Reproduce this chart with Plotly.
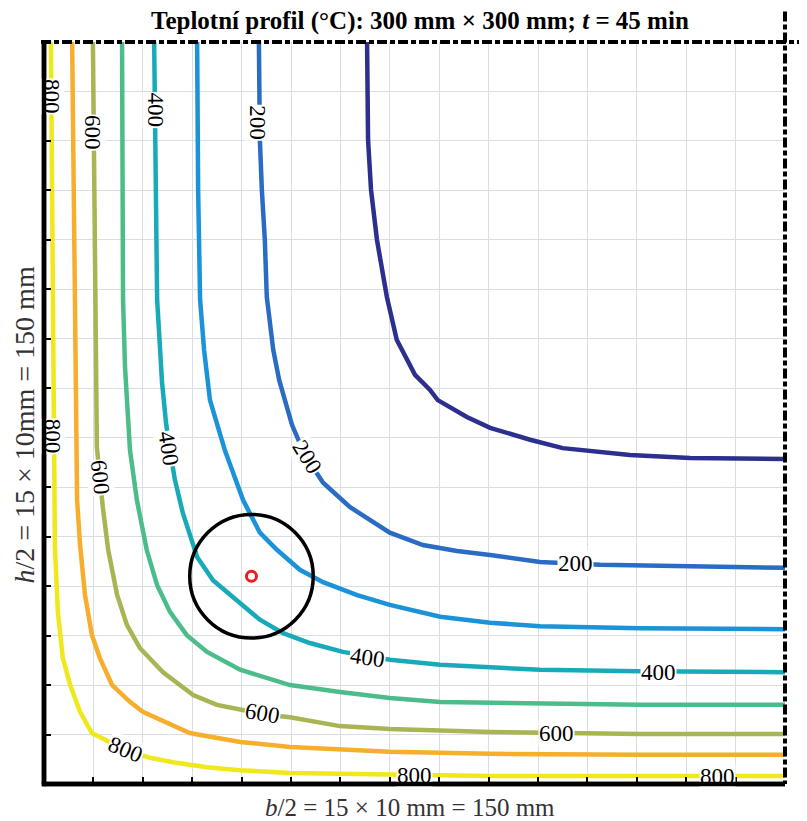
import plotly.graph_objects as go

# ---- isotherm data (mm): x = b/2 direction, y = h/2 direction
LEVELS = [100, 200, 300, 400, 500, 600, 700, 800]

T100_X = [65.4, 65.6, 66.2, 67.4, 69.4, 71.4, 75.1, 78.1, 79.7, 85.6, 90.3, 98.4, 105.0, 118.6, 130.8, 150]
T100_Y = [150, 130.2, 120.1, 110.0, 98.5, 89.8, 82.7, 79.7, 77.6, 74.2, 72.0, 69.6, 67.9, 66.5, 65.9, 65.7]

T200_X = [43.5, 43.7, 44.1, 44.7, 45.1, 46.4, 47.6, 49.0, 50.2, 52.8, 56.5, 61.9, 70.0, 76.7, 83.6, 90.3, 100.4, 112.6, 132.8, 150]
T200_Y = [150, 130.2, 120.1, 110.0, 98.5, 87.8, 81.7, 76.6, 72.6, 66.5, 60.9, 56.0, 50.8, 48.3, 47.1, 46.3, 44.9, 44.3, 43.9, 43.7]

T300_X = [31.0, 31.2, 31.6, 32.4, 33.6, 36.6, 40.3, 43.7, 47.2, 51.8, 56.5, 63.4, 70.0, 80.2, 90.3, 100.4, 120.6, 150]
T300_Y = [150, 120.1, 97.9, 87.8, 77.6, 67.5, 57.4, 50.8, 47.3, 43.3, 40.8, 38.2, 36.2, 33.8, 32.6, 31.9, 31.5, 31.3]

T400_X = [22.3, 22.7, 22.9, 23.9, 24.7, 25.5, 26.5, 28.1, 31.0, 34.2, 39.7, 43.7, 48.4, 53.8, 60.5, 70.0, 80.2, 90.3, 100.4, 120.6, 150]
T400_Y = [150, 118.1, 97.9, 81.1, 73.0, 67.5, 61.5, 54.8, 45.9, 41.2, 36.6, 33.2, 30.5, 28.5, 26.7, 25.1, 24.1, 23.5, 23.1, 22.8, 22.6]

T500_X = [15.8, 16.0, 16.4, 17.4, 18.8, 20.0, 20.8, 22.9, 25.5, 28.9, 33.0, 39.7, 45.1, 49.8, 59.9, 70.0, 80.2, 90.3, 100.4, 120.6, 150]
T500_Y = [150, 97.9, 84.3, 67.5, 57.4, 50.8, 47.3, 40.2, 34.8, 30.1, 26.7, 23.1, 21.4, 20.0, 18.6, 17.4, 16.6, 16.4, 16.2, 16.0, 16.0]

T600_X = [9.9, 10.3, 10.7, 11.3, 11.9, 13.0, 14.8, 16.8, 19.4, 24.1, 30.2, 35.0, 40.3, 45.1, 49.8, 59.9, 70.0, 80.2, 90.3, 120.6, 150]
T600_Y = [150, 97.9, 68.1, 62.1, 56.0, 47.3, 38.2, 32.1, 27.5, 22.6, 18.0, 16.0, 15.0, 14.0, 13.5, 11.7, 11.1, 10.7, 10.5, 10.1, 10.1]

T700_X = [5.7, 6.3, 6.7, 7.3, 8.3, 9.7, 11.3, 13.8, 17.4, 20.0, 24.9, 29.5, 39.7, 49.8, 70.0, 90.3, 120.6, 150]
T700_Y = [150, 97.9, 57.4, 48.3, 38.2, 30.1, 25.5, 20.0, 16.6, 14.6, 12.3, 10.3, 8.5, 7.5, 6.5, 6.1, 5.9, 5.9]

T800_X = [1.4, 1.8, 2.2, 2.8, 3.8, 5.3, 7.3, 9.7, 11.7, 16.4, 21.5, 26.1, 33.0, 39.7, 49.8, 70.0, 90.3, 150]
T800_Y = [150, 97.9, 48.3, 34.8, 25.5, 20.0, 14.6, 10.3, 9.3, 6.9, 5.3, 4.4, 3.4, 2.8, 2.2, 1.8, 1.6, 1.6]

# contour labels (value, x, y, angle)
LABEL_VALUES = [800, 800, 800, 800, 800, 600, 600, 600, 600, 400, 400, 400, 400, 200, 200, 200]
LABEL_X = [1.4, 1.6, 16.4, 75.1, 136.4, 9.9, 11.3, 44.3, 103.8, 22.5, 25.3, 65.4, 124.3, 43.3, 53.4, 107.5]
LABEL_Y = [138.9, 70.2, 6.9, 1.8, 1.6, 131.6, 61.9, 14.2, 10.3, 136.3, 67.7, 25.5, 22.6, 133.6, 66.1, 44.5]
LABEL_ANGLE = [90, 90, 22, 0, 0, 90, 84, 10, 0, 90, 81, 8, 0, 90, 58, 0]

# marked point and circle around it
POINT_X = [42.0]
POINT_Y = [42.0]
CIRCLE_R = 12.5

COLORS = ["#2c2f8e", "#2a6cc4", "#1c92d8", "#19aab9", "#4cbd8a", "#a9b552", "#f6ae2c", "#eee81c"]
SERIES = [(T100_X, T100_Y), (T200_X, T200_Y), (T300_X, T300_Y), (T400_X, T400_Y),
          (T500_X, T500_Y), (T600_X, T600_Y), (T700_X, T700_Y), (T800_X, T800_Y)]

SERIF = "Liberation Serif, Times New Roman, serif"

fig = go.Figure()
for lev, (xs, ys), col in zip(LEVELS, SERIES, COLORS):
    fig.add_trace(go.Scatter(x=xs, y=ys, mode="lines", name=str(lev),
                             line=dict(color=col, width=4.5), hoverinfo="skip"))

fig.add_trace(go.Scatter(x=POINT_X, y=POINT_Y, mode="markers",
                         marker=dict(symbol="circle-open", size=10, color="#ec1c24",
                                     line=dict(width=3, color="#ec1c24"))))

annotations = []
for v, x, y, a in zip(LABEL_VALUES, LABEL_X, LABEL_Y, LABEL_ANGLE):
    annotations.append(dict(x=x, y=y, xref="x", yref="y", text=str(v), showarrow=False,
                            textangle=a, bgcolor="white", borderpad=0,
                            font=dict(family=SERIF, size=23, color="black")))

# solid left and bottom borders drawn as arrow-lines so they sit above the label boxes
annotations.append(dict(x=0, y=0, xref="x", yref="y", ax=0, ay=150.3, axref="x", ayref="y",
                        text="", showarrow=True, arrowhead=0, arrowwidth=4.5, arrowcolor="black",
                        standoff=0, startstandoff=0, font=dict(size=1)))
annotations.append(dict(x=150, y=0, xref="x", yref="y", ax=-0.5, ay=0, axref="x", ayref="y",
                        text="", showarrow=True, arrowhead=0, arrowwidth=4.5, arrowcolor="black",
                        standoff=0, startstandoff=0, font=dict(size=1)))

annotations.append(dict(x=0.507, y=1.028, xref="paper", yref="paper",
                        text="<b>Teplotní profil (°C): 300 mm × 300 mm; <i>t</i> = 45 min</b>",
                        showarrow=False, xanchor="center", yanchor="middle",
                        font=dict(family=SERIF, size=25, color="black")))
annotations.append(dict(x=0.494, y=-0.032, xref="paper", yref="paper",
                        text="<i>b</i>/2 = 15 × 10 mm = 150 mm",
                        showarrow=False, xanchor="center", yanchor="middle",
                        font=dict(family=SERIF, size=25, color="#333")))
annotations.append(dict(x=-0.026, y=0.484, xref="paper", yref="paper",
                        text="<i>h</i>/2 = 15 × 10mm = 150 mm", textangle=-90,
                        showarrow=False, xanchor="center", yanchor="middle",
                        font=dict(family=SERIF, size=28, color="#333")))

shapes = [
    dict(type="circle", xref="x", yref="y",
         x0=POINT_X[0] - CIRCLE_R, x1=POINT_X[0] + CIRCLE_R,
         y0=POINT_Y[0] - CIRCLE_R, y1=POINT_Y[0] + CIRCLE_R,
         line=dict(color="black", width=3.5), layer="above"),
    # symmetry lines (dash-dot), top and right
    dict(type="line", xref="paper", yref="paper", x0=-0.004, x1=1.035, y0=1, y1=1,
         line=dict(color="black", width=4, dash="10px,3px,5px,3px"), layer="above"),
    dict(type="line", xref="paper", yref="paper", x0=1, x1=1, y0=1.041, y1=0,
         line=dict(color="black", width=4, dash="10px,3px,5px,3px"), layer="above"),
    # fallback solid left/bottom borders under the label boxes
    dict(type="line", xref="paper", yref="paper", x0=0, x1=0, y0=1.002, y1=-0.003,
         line=dict(color="black", width=4.5), layer="above"),
    dict(type="line", xref="paper", yref="paper", x0=-0.003, x1=1.0, y0=0, y1=0,
         line=dict(color="black", width=4.5), layer="above"),
]

fig.update_layout(
    width=799, height=813,
    margin=dict(l=36, r=22, t=34, b=37),
    plot_bgcolor="white", paper_bgcolor="white",
    showlegend=False,
    annotations=annotations, shapes=shapes,
    xaxis=dict(range=[0, 150], dtick=10, tick0=0, showticklabels=False,
               ticks="inside", ticklen=7, tickwidth=1.5, tickcolor="black",
               showgrid=True, gridcolor="#d9dee4", gridwidth=1,
               zeroline=False, showline=False, fixedrange=True),
    yaxis=dict(range=[0, 150], dtick=10, tick0=0, showticklabels=False,
               ticks="inside", ticklen=7, tickwidth=1.5, tickcolor="black",
               showgrid=True, gridcolor="#d9dee4", gridwidth=1,
               zeroline=False, showline=False, fixedrange=True),
)

fig.write_html("out.html")
